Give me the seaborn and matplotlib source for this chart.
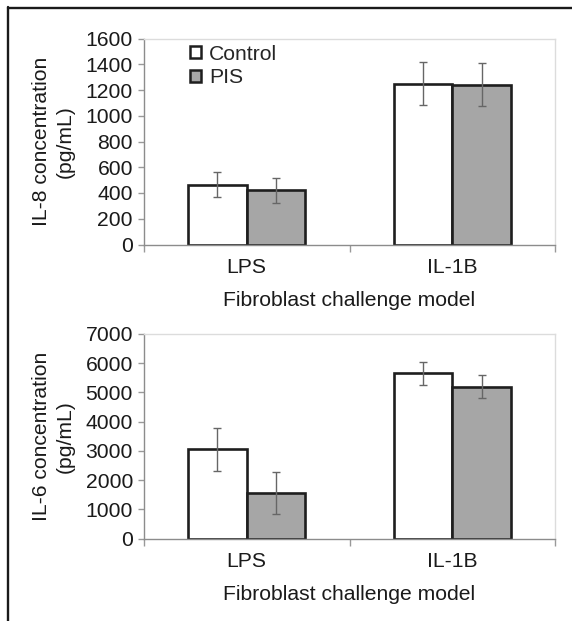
import matplotlib
matplotlib.use("Agg")
import matplotlib.pyplot as plt
from matplotlib.lines import Line2D
from matplotlib.patches import Patch
import seaborn as sns
import pandas as pd

# ---- data ----
models = ["LPS", "IL-1B"]
groups = ["Control", "PIS"]

il8_control = [465, 1250]
il8_pis = [420, 1240]
il8_control_err = [97, 170]
il8_pis_err = [95, 168]

il6_control = [3050, 5660]
il6_pis = [1560, 5200]
il6_control_err = [725, 390]
il6_pis_err = [720, 380]

il8_ticks = [0, 200, 400, 600, 800, 1000, 1200, 1400, 1600]
il6_ticks = [0, 1000, 2000, 3000, 4000, 5000, 6000, 7000]

xlabel = "Fibroblast challenge model"
il8_ylabel = "IL-8 concentration\n(pg/mL)"
il6_ylabel = "IL-6 concentration\n(pg/mL)"

colors = {"Control": "#ffffff", "PIS": "#a6a6a6"}

sns.set_theme(style="white")
plt.rcParams["font.family"] = ["Liberation Sans", "DejaVu Sans"]

FS = 15.2
W, H = 572, 621
fig = plt.figure(figsize=(W / 100, H / 100), dpi=100)


def px_axes(left, top, right, bottom):
    return fig.add_axes([left / W, 1 - bottom / H, (right - left) / W, (bottom - top) / H])


def draw_panel(ax, ctrl, pis, ctrl_err, pis_err, ticks, ylabel, legend=False):
    df = pd.DataFrame({
        "model": models * 2,
        "group": ["Control"] * len(models) + ["PIS"] * len(models),
        "value": list(ctrl) + list(pis),
    })
    sns.barplot(data=df, x="model", y="value", hue="group", order=models,
                hue_order=groups, palette=colors, width=0.57, errorbar=None,
                edgecolor="#1e1e1e", linewidth=1.9, saturation=1, ax=ax,
                legend=False, zorder=2)
    errs = {"Control": ctrl_err, "PIS": pis_err}
    for cont, g in zip(ax.containers, groups):
        for bar, e in zip(cont, errs[g]):
            ax.errorbar(bar.get_x() + bar.get_width() / 2, bar.get_height(),
                        yerr=e, fmt="none", ecolor="#666666", elinewidth=1.0,
                        capsize=3.2, capthick=1.0, zorder=4)
    ax.set_xlim(-0.5, len(models) - 0.5)
    ax.set_ylim(ticks[0], ticks[-1])
    ax.set_yticks(ticks)
    ax.set_yticklabels([str(t) for t in ticks])
    ax.set_xticks(range(len(models)))
    ax.set_xticklabels(models)
    ax.set_xticks([i - 0.5 for i in range(len(models) + 1)], minor=True)
    ax.tick_params(axis="x", which="major", length=0, pad=10, labelsize=FS,
                   labelcolor="#1a1a1a")
    ax.tick_params(axis="x", which="minor", length=5, width=1, color="#999999",
                   direction="out", bottom=True)
    ax.tick_params(axis="y", length=4, width=1, color="#999999", pad=4,
                   labelsize=FS, labelcolor="#1a1a1a", left=True)
    ax.set_xlabel(xlabel, fontsize=FS, color="#1a1a1a", labelpad=10)
    ax.set_ylabel(ylabel, fontsize=FS, color="#1a1a1a", linespacing=1.3)
    ax.yaxis.set_label_coords(-0.168, 0.5)
    for s in ["left", "bottom"]:
        ax.spines[s].set_color("#8c8c8c")
        ax.spines[s].set_linewidth(1.0)
    for s in ["top", "right"]:
        ax.spines[s].set_color("#dcdcdc")
        ax.spines[s].set_linewidth(1.0)
    ax.grid(False)
    if legend:
        handles = [Patch(facecolor=colors[g], edgecolor="#1e1e1e", linewidth=1.8, label=g)
                   for g in groups]
        ax.legend(handles=handles, loc="upper left", bbox_to_anchor=(0.112, 0.97),
                  frameon=False, fontsize=FS, handlelength=0.5, handleheight=0.5,
                  handletextpad=0.4, labelspacing=0.22, borderpad=0, borderaxespad=0)


ax1 = px_axes(144, 38.5, 555, 244.5)
draw_panel(ax1, il8_control, il8_pis, il8_control_err, il8_pis_err, il8_ticks,
           il8_ylabel, legend=True)

ax2 = px_axes(144, 334, 555, 538.5)
draw_panel(ax2, il6_control, il6_pis, il6_control_err, il6_pis_err, il6_ticks,
           il6_ylabel)

# outer frame (top and left edges)
fig.add_artist(Line2D([7.5 / W, 1.0], [1 - 7.5 / H, 1 - 7.5 / H], color="#1a1a1a",
                      linewidth=1.7, transform=fig.transFigure))
fig.add_artist(Line2D([7.5 / W, 7.5 / W], [1 - 6.7 / H, 0.0], color="#1a1a1a",
                      linewidth=1.7, transform=fig.transFigure))

fig.savefig("out.png", dpi=100, facecolor="white")
